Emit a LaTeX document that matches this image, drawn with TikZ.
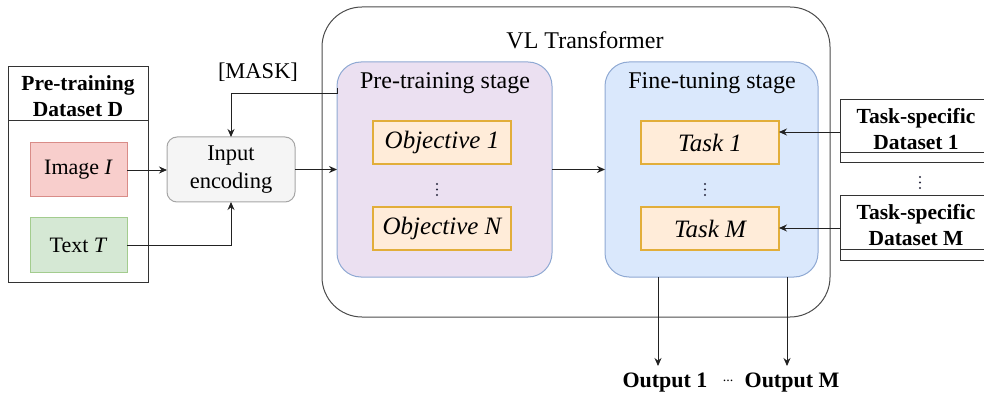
\documentclass[tikz,border=0pt]{standalone}
\usepackage{fontspec}
\setmainfont{Liberation Serif}
\usetikzlibrary{arrows.meta,positioning}
\definecolor{redfill}{HTML}{F8CECC}
\definecolor{redline}{HTML}{D98C88}
\definecolor{greenfill}{HTML}{D5E8D4}
\definecolor{greenline}{HTML}{A3CC8E}
\definecolor{grayfill}{HTML}{F5F5F5}
\definecolor{grayline}{HTML}{A6A6A6}
\definecolor{purplefill}{HTML}{EBE0F1}
\definecolor{blueline}{HTML}{8FA9D3}
\definecolor{bluefill}{HTML}{DAE8FC}
\definecolor{orangefill}{HTML}{FFECD9}
\definecolor{orangeline}{HTML}{E2AE3A}
\definecolor{linecol}{HTML}{222222}
\definecolor{dotcol}{HTML}{2A2A40}
\tikzset{
  every node/.style={inner sep=0pt, outer sep=0pt},
  conn/.style={draw=linecol, line width=0.9pt, -{Stealth[length=8pt,width=7pt]}},
  srcbox/.style={draw, line width=1pt, minimum width=97pt, minimum height=54pt, font=\fontsize{22}{24}\selectfont},
  taskbox/.style={draw=orangeline, fill=orangefill, line width=1.2pt, minimum width=138pt, minimum height=43pt, font=\fontsize{25}{27}\selectfont\itshape},
  stage/.style={draw=blueline, line width=1pt, rounded corners=24pt, minimum width=215pt, minimum height=215pt},
  stagetitle/.style={font=\fontsize{24}{26}\selectfont},
  dsbox/.style={draw=black!80, line width=1pt},
  boldlbl/.style={font=\fontsize{21.5}{26.5}\selectfont\bfseries, align=center},
  vdot/.style={fill=dotcol, circle, minimum size=2.4pt},
}
\begin{document}
\begin{tikzpicture}[x=1pt,y=-1pt]
\useasboundingbox (0,0) rectangle (984,395);
\clip (0,0) rectangle (984,395);
% VL Transformer
\node[draw=black!70, line width=1pt, rounded corners=40pt, minimum width=508pt, minimum height=310pt] (vl) at (576,162) {};
\node[stagetitle] (vltitle) at (585,40) {VL Transformer};
% stages
\node[stage, fill=purplefill] (pre) at (444.5,169.5) {};
\node[stagetitle] (pretitle) at (445,83) {Pre-training stage};
\node[stage, fill=bluefill, minimum width=213pt] (fine) at (711.5,169.5) {};
\node[stagetitle] (finetitle) at (712,83) {Fine-tuning stage};
\node[taskbox] (obj1) at (442,142.5) {Objective 1};
\node[taskbox] (objn) at (442,228.5) {Objective N};
\node[taskbox] (task1) at (710,142.5) {Task 1};
\node[taskbox] (taskm) at (710,228.5) {Task M};
% vertical dots
\foreach \dx/\dy in {437/184, 705/184, 920/177} {
  \node[vdot] at (\dx,\dy) {};
  \node[vdot] at (\dx,\dy+5.5) {};
  \node[vdot] at (\dx,\dy+11) {};
}
% pre-training dataset
\draw[dsbox] (8,67) rectangle (148,282);
\draw[dsbox] (8,121) -- (148,121);
\node[boldlbl] (pdtitle) at (78,96) {Pre-training\\Dataset D};
\node[srcbox, draw=redline, fill=redfill] (img) at (78.5,170) {Image \textit{I}};
\node[srcbox, draw=greenline, fill=greenfill] (txt) at (78.5,245) {Text \textit{T}};
% input encoding
\node[draw=grayline, fill=grayfill, line width=1pt, rounded corners=10pt, minimum width=128pt, minimum height=65pt, align=center, font=\fontsize{22.5}{28}\selectfont] (enc) at (231,169.5) {Input\\encoding};
\node[font=\fontsize{22.5}{24}\selectfont] (mask) at (258,72) {[MASK]};
% task-specific datasets
\draw[dsbox] (840,100) rectangle (995,163);
\draw[dsbox] (840,153) -- (995,153);
\node[boldlbl] (ds1) at (916,129) {Task-specific\\Dataset 1};
\draw[dsbox] (840,196) rectangle (995,260);
\draw[dsbox] (840,249) -- (995,249);
\node[boldlbl] (dsm) at (916,225) {Task-specific\\Dataset M};
\coordinate (ds1w) at (840,132);
\coordinate (dsmw) at (840,228);
% outputs
\node[font=\fontsize{22}{24}\selectfont\bfseries, anchor=base] (out1) at (665,387) {Output 1};
\node[font=\fontsize{22}{24}\selectfont\bfseries, anchor=base] (outm) at (792,387) {Output M};
\node[font=\fontsize{14}{16}\selectfont] (odots) at (728,381) {...};
\coordinate (o1) at (658,366);
\coordinate (om) at (787,366);
% connectors
\draw[conn] (img.east) -- (enc.west |- img.east);
\draw[conn] (txt.east) -| (enc.south);
\coordinate (mstart) at (337,88);
\draw[conn] (mstart) -- (337,93) -| (enc.north);
\draw[conn] (enc.east) -- (pre.west |- enc.east);
\draw[conn] (pre.east) -- (fine.west);
\draw[conn] (ds1w) -- (task1.east |- ds1w);
\draw[conn] (dsmw) -- (taskm.east |- dsmw);
\draw[conn] (fine.south -| o1) -- (o1);
\draw[conn] (fine.south -| om) -- (om);
\end{tikzpicture}
\end{document}
